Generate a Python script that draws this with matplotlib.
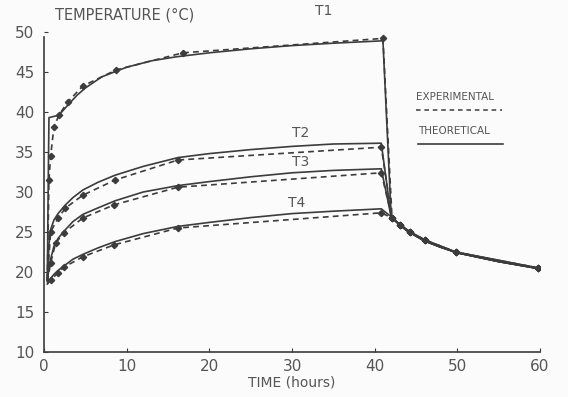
import numpy as np
import matplotlib.pyplot as plt

# experimental readings (hours, deg C)
t1_exp = [0.4, 0.6, 0.8, 1.2, 1.8, 2.9, 4.7, 8.7, 16.8, 41.0]
T1_exp = [19.0, 31.5, 34.5, 38.1, 39.6, 41.3, 43.25, 45.25, 47.4, 49.2]
t2_exp = [0.4, 0.8, 1.7, 2.6, 4.7, 8.6, 16.2, 40.8]
T2_exp = [19.0, 25.0, 26.75, 28.0, 29.6, 31.5, 34.0, 35.6]
t3_exp = [0.4, 0.8, 1.4, 2.4, 4.7, 8.5, 16.2, 40.8]
T3_exp = [18.8, 21.1, 23.6, 24.9, 26.75, 28.4, 30.6, 32.4]
t4_exp = [0.4, 0.8, 1.7, 2.4, 4.7, 8.5, 16.2, 40.8]
T4_exp = [18.5, 19.0, 19.9, 20.6, 21.9, 23.4, 25.5, 27.4]

# cooling phase, shared by all four
tc_exp = [42.1, 43.1, 44.3, 46.1, 49.8, 59.8]
Tc_exp = [26.75, 25.9, 25.0, 24.0, 22.5, 20.5]

# theoretical curves
t1_th = [0.4, 0.5, 0.6, 1.0, 1.8, 3.0, 4.0, 5.0, 7.0, 10.0, 13.0, 16.0, 20.0, 25.0, 30.0, 35.0, 41.0]
T1_th = [19.0, 30.0, 39.3, 39.4, 39.6, 41.0, 42.1, 43.0, 44.4, 45.6, 46.4, 46.9, 47.4, 47.9, 48.3, 48.6, 48.9]
t_th = [0.4, 0.6, 0.8, 1.2, 1.7, 2.6, 3.5, 4.7, 6.5, 8.6, 12.0, 16.2, 20.0, 25.0, 30.0, 35.0, 40.8]
T2_th = [19.0, 23.5, 25.3, 26.5, 27.3, 28.4, 29.3, 30.25, 31.2, 32.1, 33.2, 34.3, 34.8, 35.3, 35.7, 36.0, 36.1]
T3_th = [18.8, 20.5, 21.6, 23.2, 24.2, 25.3, 26.3, 27.2, 28.0, 28.9, 30.0, 30.8, 31.3, 31.9, 32.4, 32.7, 32.9]
T4_th = [18.5, 18.9, 19.2, 19.7, 20.2, 20.9, 21.6, 22.2, 23.0, 23.8, 24.8, 25.7, 26.2, 26.8, 27.3, 27.6, 27.9]
tc_th = [42.0, 43.0, 44.0, 46.0, 48.0, 50.0, 55.0, 60.0]
Tc_th = [26.9, 25.9, 25.1, 23.9, 23.1, 22.4, 21.3, 20.4]

labels = ['T1', 'T2', 'T3', 'T4']
label_pos = [(33.8, 52.6), (31.0, 37.4), (31.0, 33.8), (30.5, 28.6)]

ink = '#3c3c3c'
txt = '#555555'

fig = plt.figure(figsize=(5.68, 3.97), dpi=100, facecolor='#fbfbfb')
ax = fig.add_axes([44/568, 45/397, 496/568, 320/397])
ax.set_facecolor('#fbfbfb')

exp_sets = [(t1_exp, T1_exp), (t2_exp, T2_exp), (t3_exp, T3_exp), (t4_exp, T4_exp)]
th_sets = [(t1_th, T1_th), (t_th, T2_th), (t_th, T3_th), (t_th, T4_th)]

for (te, Te), (tt, Tt) in zip(exp_sets, th_sets):
    ax.plot(te + tc_exp, Te + Tc_exp, color=ink, lw=1.2, ls=(0, (3.5, 2.5)),
            marker='D', ms=3.2, markevery=list(range(1, len(te) + len(tc_exp))))
    ax.plot(tt + tc_th, Tt + Tc_th, color=ink, lw=1.2)

for lab, (x, y) in zip(labels, label_pos):
    ax.text(x, y, lab, fontsize=10, color=txt, ha='center', va='center', clip_on=False)

ax.set_xlim(0, 60)
ax.set_ylim(10, 50)
ax.set_xticks([0, 10, 20, 30, 40, 50, 60])
ax.set_yticks([10, 15, 20, 25, 30, 35, 40, 45, 50])
ax.tick_params(direction='in', length=3, width=0.8, colors=ink, labelcolor=txt,
               labelsize=11, pad=7)
ax.tick_params(axis='x', pad=5)
for s in ['top', 'right']:
    ax.spines[s].set_visible(False)
for s in ['left', 'bottom']:
    ax.spines[s].set_color(ink)
    ax.spines[s].set_linewidth(1.2)
ax.spines['left'].set_bounds(10, 49.4)

ax.set_xlabel('TIME (hours)', fontsize=10, color=txt, labelpad=1)
fig.text(55/568, 1 - 15/397, 'TEMPERATURE (°C)', fontsize=10.5, color=txt, va='center')

# legend drawn by hand
ax.text(0.75, 0.797, 'EXPERIMENTAL', transform=ax.transAxes, fontsize=7.5, color=txt, va='center')
ax.plot([0.75, 0.923], [0.756, 0.756], transform=ax.transAxes, color=ink, lw=1.1,
        ls=(0, (3, 2.5)), clip_on=False)
ax.text(0.755, 0.69, 'THEORETICAL', transform=ax.transAxes, fontsize=7.5, color=txt, va='center')
ax.plot([0.755, 0.925], [0.65, 0.65], transform=ax.transAxes, color=ink, lw=1.2, clip_on=False)

fig.savefig('out.png', dpi=100, facecolor=fig.get_facecolor())
